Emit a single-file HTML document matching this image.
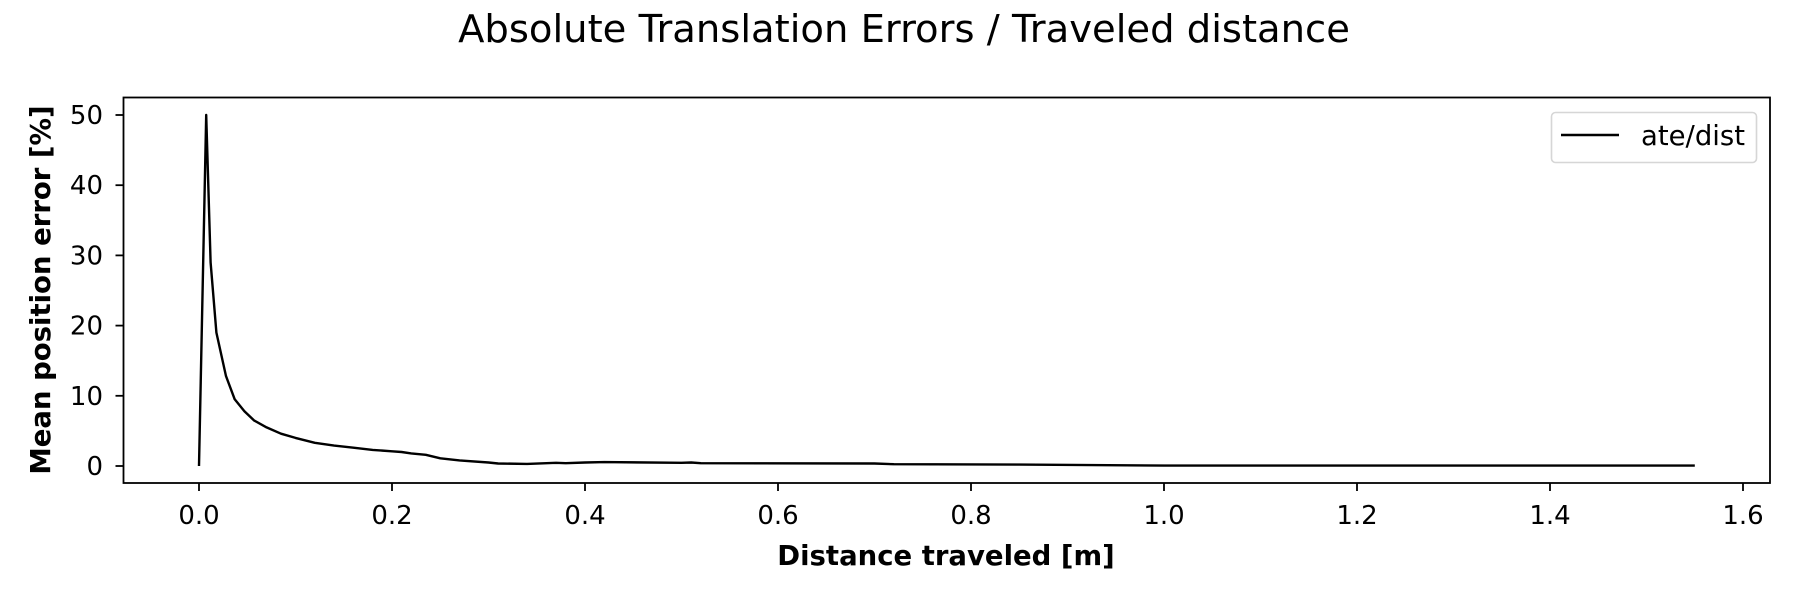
<!DOCTYPE html>
<html><head><meta charset="utf-8"><style>
html,body{margin:0;padding:0;background:#fff;}
svg text{font-family:"DejaVu Sans","Liberation Sans",sans-serif;fill:#000;}
</style></head><body>
<svg id="chart" width="1800" height="600" viewBox="0 0 1800 600" xmlns="http://www.w3.org/2000/svg">
<rect width="1800" height="600" fill="#fff"/>
<text x="904" y="42" font-size="38.5" text-anchor="middle">Absolute Translation Errors / Traveled distance</text>
<g id="xticks"></g>
<g id="yticks"></g>
<path id="series" fill="none" stroke="#000" stroke-width="2.4" stroke-linejoin="round"/>
<rect x="123.5" y="97.5" width="1646.5" height="385.5" fill="none" stroke="#000" stroke-width="1.8"/>
<text x="946" y="565" font-size="27.5" font-weight="bold" text-anchor="middle">Distance traveled [m]</text>
<text transform="translate(50,290) rotate(-90)" font-size="27.5" font-weight="bold" text-anchor="middle">Mean position error [%]</text>
<g>
<rect x="1551.5" y="112.5" width="205" height="50" rx="4" fill="#fff" stroke="#d6d6d6" stroke-width="1.6"/>
<line x1="1561" y1="135" x2="1619" y2="135" stroke="#000" stroke-width="2.4"/>
<text x="1641" y="145" font-size="27.5">ate/dist</text>
</g>
</svg>
<script>
const xs = [0,0.0075,0.012,0.018,0.028,0.037,0.047,0.057,0.07,0.085,0.1,0.12,0.14,0.16,0.18,0.2,0.21,0.22,0.235,0.25,0.27,0.3,0.31,0.34,0.37,0.38,0.4,0.42,0.5,0.51,0.52,0.7,0.72,0.85,1.0,1.55];
const ys = [0,50,29,19,12.8,9.5,7.8,6.5,5.5,4.6,4.0,3.3,2.9,2.6,2.3,2.1,2.0,1.8,1.6,1.1,0.8,0.5,0.35,0.3,0.45,0.4,0.5,0.55,0.45,0.5,0.4,0.35,0.25,0.2,0.05,0.05];
const xTicks = [0,0.2,0.4,0.6,0.8,1.0,1.2,1.4,1.6];
const yTicks = [0,10,20,30,40,50];
const X = v => 199 + v * 965;
const Y = v => 466 - v * 7.02;
const NS = "http://www.w3.org/2000/svg";
let d = xs.map((x,i)=>(i?"L":"M")+X(x).toFixed(1)+","+Y(ys[i]).toFixed(1)).join("");
document.getElementById("series").setAttribute("d", d);
const xg = document.getElementById("xticks");
xTicks.forEach(t=>{
  const l=document.createElementNS(NS,"line");
  l.setAttribute("x1",X(t));l.setAttribute("x2",X(t));l.setAttribute("y1",483);l.setAttribute("y2",491);
  l.setAttribute("stroke","#000");l.setAttribute("stroke-width","1.8");
  
  
  xg.appendChild(l);
  const tx=document.createElementNS(NS,"text");
  tx.setAttribute("x",X(t));tx.setAttribute("y",524);tx.setAttribute("font-size","26");tx.setAttribute("text-anchor","middle");
  tx.textContent=t.toFixed(1);
  
  
  xg.appendChild(tx);
});
const yg = document.getElementById("yticks");
yTicks.forEach(t=>{
  const l=document.createElementNS(NS,"line");
  l.setAttribute("x1",115.5);l.setAttribute("x2",123.5);l.setAttribute("y1",Y(t));l.setAttribute("y2",Y(t));
  l.setAttribute("stroke","#000");l.setAttribute("stroke-width","1.8");
  
  
  yg.appendChild(l);
  const tx=document.createElementNS(NS,"text");
  tx.setAttribute("x",103);tx.setAttribute("y",Y(t)+9);tx.setAttribute("font-size","26");tx.setAttribute("text-anchor","end");
  tx.textContent=String(t);
  
  
  yg.appendChild(tx);
});
</script>
</body></html>
